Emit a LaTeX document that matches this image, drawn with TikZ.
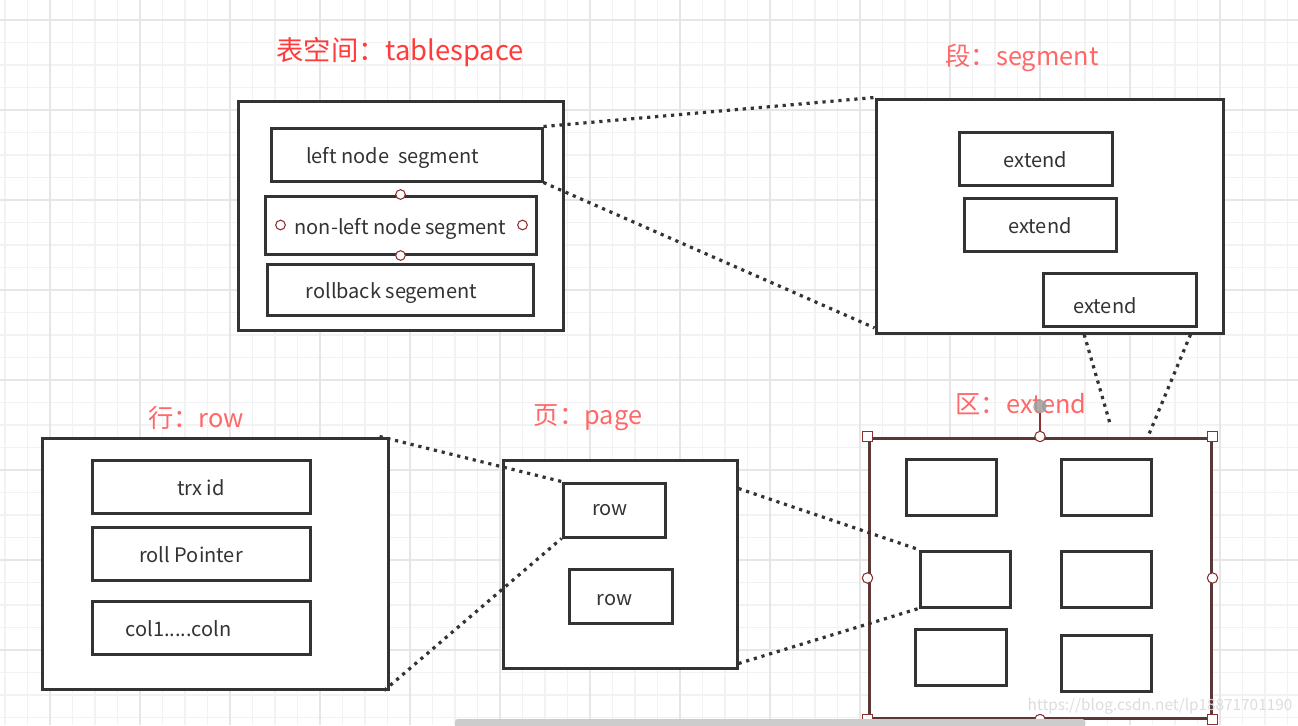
\documentclass[tikz,border=0pt]{standalone}
\usepackage{fontspec}
\setmainfont{Noto Sans CJK SC}
\definecolor{ink}{HTML}{333333}
\definecolor{titlered}{HTML}{FF3B3B}
\definecolor{titlepink}{HTML}{FF6868}
\definecolor{handle}{HTML}{8B2F2F}
\definecolor{selbox}{HTML}{5A3838}
\definecolor{gridminor}{HTML}{F2F2F2}
\definecolor{gridmajor}{HTML}{E6E6E6}

\begin{document}
\begin{tikzpicture}[x=0.75pt, y=-0.75pt]
  \tikzstyle{back} = [rectangle, draw=ink, line width=2.25pt, fill=white, inner sep=0pt]
  \tikzstyle{word} = [font=\fontsize{15pt}{17pt}\selectfont, text=ink, text height=13.5pt, text depth=0pt]
  \tikzstyle{box} = [back, word, minimum height=39.75pt]
  \tikzstyle{cell} = [back, minimum width=67.5pt, minimum height=41.5pt]
  \tikzstyle{title} = [font=\fontsize{19pt}{22pt}\selectfont, text=titlepink]
  \tikzstyle{link} = [ink, line width=2.4pt, dash pattern=on 2.4pt off 3.6pt]
  \tikzstyle{grip} = [handle, line width=0.8pt, fill=white]
\useasboundingbox (0,0) rectangle (1298,725);
% grid paper
\fill[white] (0,0) rectangle (1298,725);
\foreach \gx in {5,27.5,...,1298} \draw[gridminor, line width=1.3pt] (\gx,0) -- (\gx,725);
\foreach \gy in {-2.5,20,...,725} \draw[gridminor, line width=1.3pt] (0,\gy) -- (1298,\gy);
\foreach \gx in {50,140,...,1298} \draw[gridmajor, line width=1.3pt] (\gx,0) -- (\gx,725);
\foreach \gy in {20,110,...,725} \draw[gridmajor, line width=1.3pt] (0,\gy) -- (1298,\gy);

% tablespace
\node[title, text=titlered, font=\fontsize{20.5pt}{24pt}\selectfont] (tbst) at (400,52) {表空间：tablespace};
\node[back, minimum width=243.75pt, minimum height=171.75pt] (tbs) at (400.5,215.5) {};
\node[box, minimum width=203.25pt, label={[word, xshift=-10.5pt]center:left node\ \ segment}] (lns) at (406.5,154.5) {};
\node[box, minimum width=203.25pt, minimum height=43.5pt] (nlns) at (400.5,225) {non-left node segment};
\node[box, minimum width=199.5pt, minimum height=38.25pt, label={[word, xshift=-6.4pt]center:rollback segement}] (rbs) at (400,289.5) {};
\draw[grip] (nlns.north) circle (3.6pt);
\draw[grip] (nlns.south) circle (3.6pt);
\draw[grip] ([xshift=12.75pt]nlns.west) circle (3.6pt);
\draw[grip] ([xshift=-11.25pt]nlns.east) circle (3.6pt);

% segment
\node[title] (segt) at (1022,58) {段：segment};
\node[back, minimum width=260.25pt, minimum height=175.5pt] (seg) at (1049.5,216) {};
\node[box, minimum width=114.75pt] (ext1) at (1035.5,158.5) {extend};
\node[box, minimum width=114pt] (ext2) at (1040,224.5) {extend};
\node[box, minimum width=114.75pt, label={[word, xshift=-10.9pt, yshift=-4.1pt]center:extend}] (ext3) at (1119.5,299.5) {};

% row
\node[title] (rowt) at (196,418) {行：row};
\node[back, minimum width=259.5pt, minimum height=188.25pt] (rowb) at (215,563.5) {};
\node[box, minimum width=163.5pt] (trx) at (201,486.5) {trx id};
\node[box, minimum width=163.5pt, label={[word, xshift=-7.5pt]center:roll Pointer}] (rp) at (201,553.5) {};
\node[box, minimum width=163.5pt, label={[word, xshift=-16.9pt]center:col1.....coln}] (cols) at (201,627.5) {};

% page
\node[title] (paget) at (588,418) {页：page};
\node[back, minimum width=175.5pt, minimum height=156pt] (page) at (620,564) {};
\node[box, minimum width=76.5pt, minimum height=40.5pt, label={[word, xshift=-3pt, yshift=3pt]center:row}] (prow1) at (614,510) {};
\node[box, minimum width=77.25pt, minimum height=40.5pt, label={[word, xshift=-4.5pt]center:row}] (prow2) at (620.5,596) {};

% extend (selected)
\node[title] (regt) at (1021,404) {区：extend};
\node[back, draw=selbox, minimum width=256.5pt, minimum height=210pt] (reg) at (1040,578) {};
\node[cell] (c1) at (951,487.5) {};
\node[cell] (c2) at (1106,487.5) {};
\node[cell, minimum height=42pt] (c3) at (965,579) {};
\node[cell, minimum height=42pt] (c4) at (1106,579) {};
\node[cell, minimum width=68.25pt, minimum height=42pt] (c5) at (960.5,657) {};
\node[cell, minimum height=42pt] (c6) at (1106,663) {};
\foreach \h in {north west, north east, south west, south east}
  \draw[grip] ([shift={(-3.75pt,-3.75pt)}]reg.\h) rectangle +(7.5pt,7.5pt);
\foreach \h in {north, south, west, east}
  \draw[grip] (reg.\h) circle (3.9pt);
\draw[handle, line width=1pt] ([yshift=3.9pt]reg.north) -- ([yshift=18pt]reg.north);
\fill[gray!75, opacity=.85] ([yshift=22.5pt]reg.north) circle (5pt);

% dotted links
\draw[link] (lns.north east) -- (seg.north west);
\draw[link] (lns.south east) -- ([yshift=5pt]seg.south west);
\draw[link] ([xshift=26pt]seg.south) -- ([xshift=52.5pt, yshift=9.75pt]reg.north);
\draw[link] ([xshift=-25.5pt]seg.south east) -- ([xshift=81pt]reg.north);
\draw[link] ([xshift=-7.5pt]rowb.north east) -- (prow1.north west);
\draw[link] ([xshift=-4pt]rowb.south east) -- (prow1.south west);
\draw[link] ([yshift=-22.5pt]page.north east) -- (c3.north west);
\draw[link] ([yshift=4.5pt]page.south east) -- (c3.south west);

% watermark and scroll bar
\node[text=gray!30, opacity=.9, font=\fontsize{11.5pt}{14pt}\selectfont] (wm) at (1160,706) {https://blog.csdn.net/lp18871701190};
\fill[gray!40, rounded corners=2pt] (455,719) rectangle (1085,728);
\end{tikzpicture}
\end{document}
